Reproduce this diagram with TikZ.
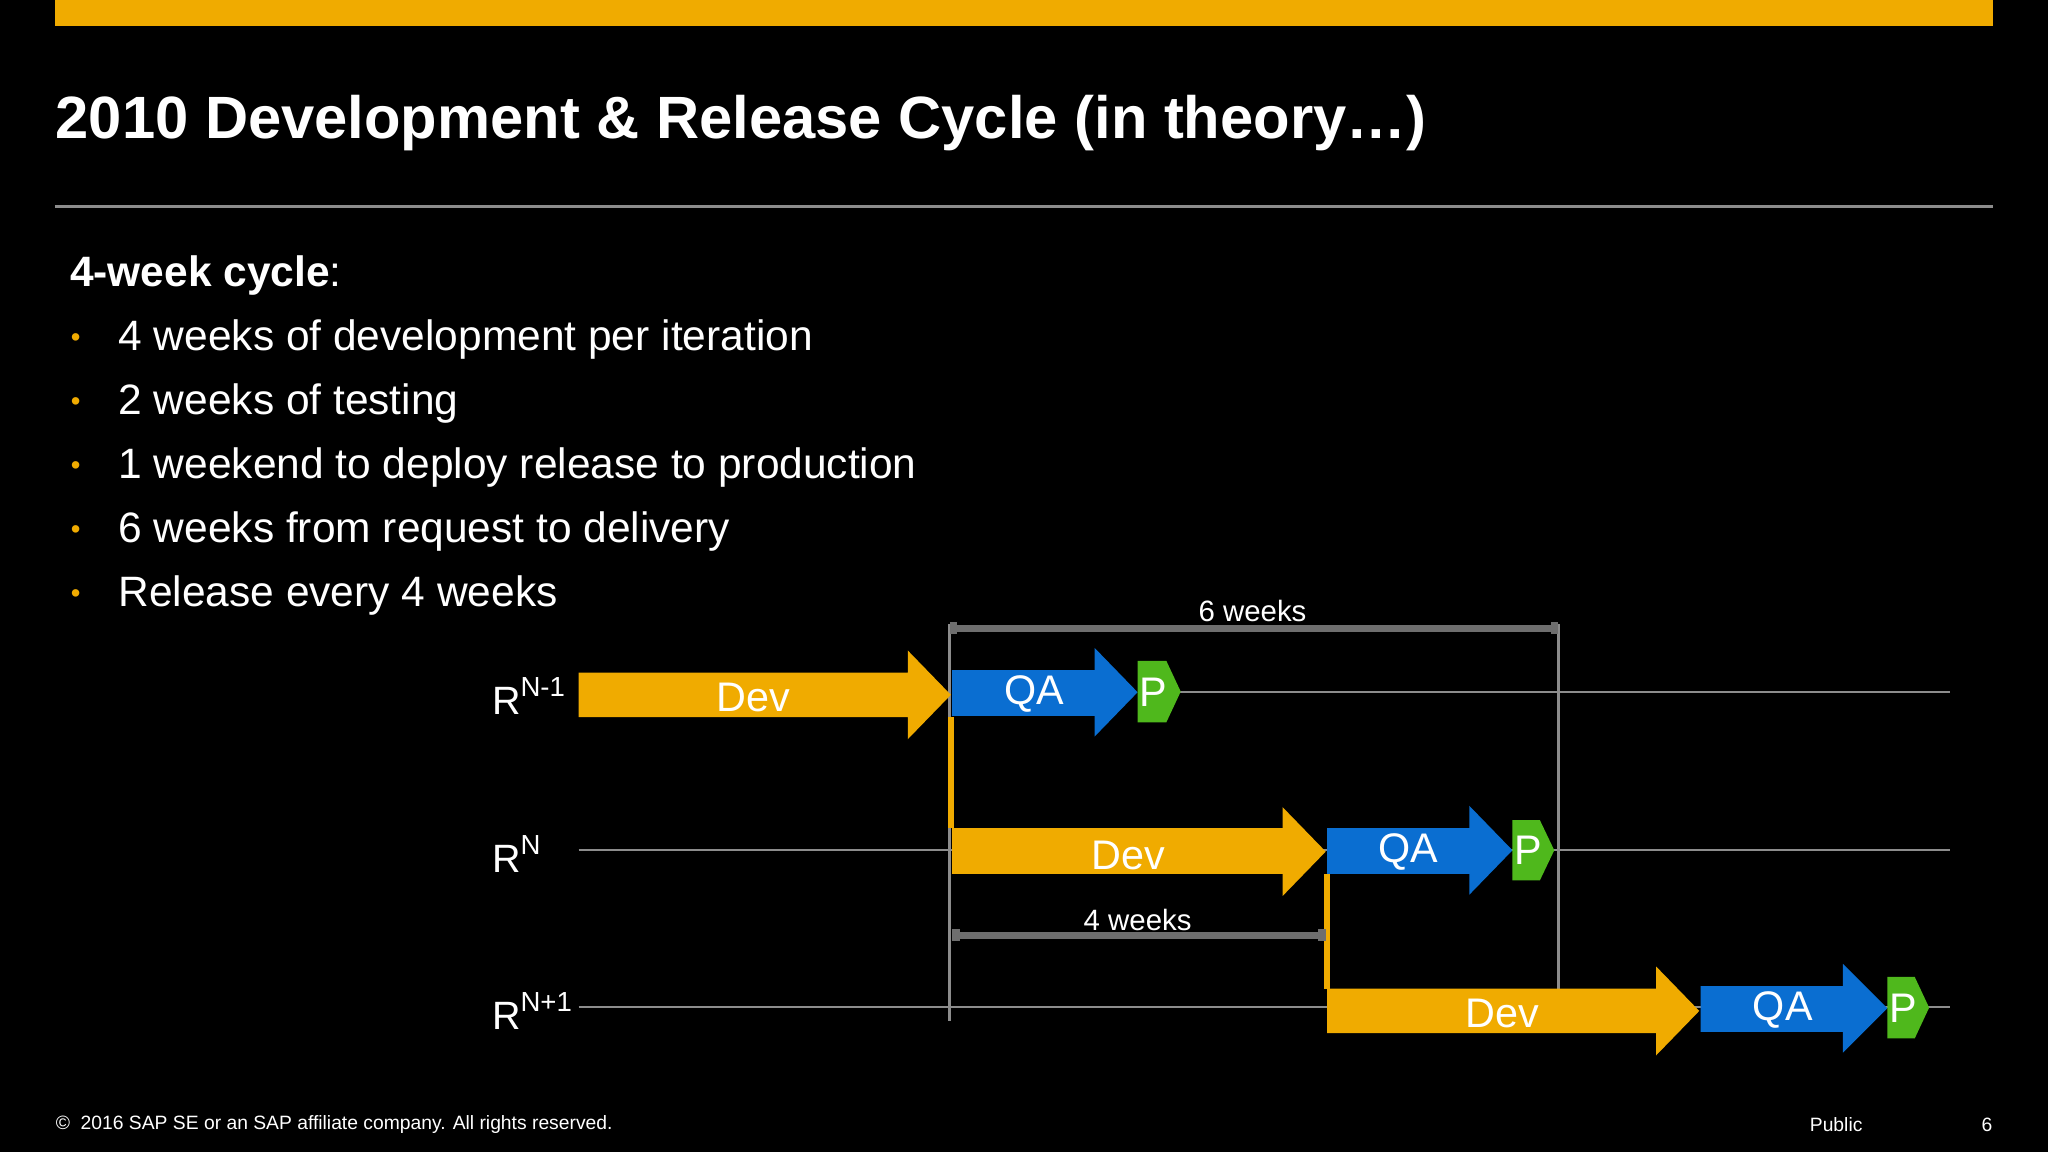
\documentclass[tikz,border=0pt]{standalone}
\usepackage{fontspec}
\setmainfont{Liberation Sans}
\usetikzlibrary{arrows.meta}
\definecolor{sapgold}{HTML}{F0AB00}
\definecolor{sapblue}{HTML}{0A6ED1}
\definecolor{sapgreen}{HTML}{4FB81C}
\definecolor{rowline}{HTML}{8C8C8C}
\definecolor{dimline}{HTML}{6E6E6E}
\tikzset{
  txt/.style={text=white,inner sep=0pt},
  bul/.style={txt,anchor=west,font=\fontsize{9.25}{10}\selectfont},
  lbl/.style={txt,font=\fontsize{8.6}{10}\selectfont},
  arrtxt/.style={txt,font=\fontsize{9}{10}\selectfont},
  dimarrow/.style={dimline,line width=1.6pt,{Bar[width=2.5pt]}-{Bar[width=2.5pt]}},
}
\newcommand{\sups}[1]{\raisebox{0.45em}{\fontsize{6}{7}\selectfont #1}}
\newcommand{\bigarrow}[8]{\fill[#8] (#1,#4) -- (#2,#4) -- (#2,#6) -- (#3,{(#6+#7)/2}) -- (#2,#7) -- (#2,#5) -- (#1,#5) -- cycle;}
\newcommand{\pent}[4]{\fill[sapgreen] (#1,#3) -- ({#2-11},#3) -- (#2,{(#3+#4)/2}) -- ({#2-11},#4) -- (#1,#4) -- cycle;}
\begin{document}
\begin{tikzpicture}[x=0.01cm,y=-0.01cm]
\fill[black] (0,0) rectangle (1568,882);
\useasboundingbox (0,0) rectangle (1568,882);
\fill[sapgold] (42,0) rectangle (1526,20);
\node[txt,anchor=west,font=\fontsize{13}{14}\selectfont\bfseries] (title) at (42,94) {2010 Development \& Release Cycle (in theory…)};
\draw[rowline,line width=0.6pt] (42,158) -- (1526,158);
\node[bul] (head) at (53,211) {\textbf{4-week cycle}:};
\foreach \y/\t [count=\i] in {260/4 weeks of development per iteration,309/2 weeks of testing,358/1 weekend to deploy release to production,407/6 weeks from request to delivery,456/Release every 4 weeks}{
  \node[text=sapgold,font=\fontsize{6}{7}\selectfont,inner sep=0pt] (b\i) at (58,\y) {•};
  \node[bul] (t\i) at (90,\y) {\t};
}
\draw[rowline,line width=0.5pt] (900,530) -- (1493,530);
\draw[rowline,line width=0.5pt] (443,651) -- (1493,651);
\draw[rowline,line width=0.5pt] (443,771) -- (1493,771);
\draw[rowline,line width=0.6pt] (727,478) -- (727,782);
\draw[rowline,line width=0.6pt] (1193,478) -- (1193,757);
\draw[sapgold,line width=1.2pt] (728,549) -- (728,634);
\draw[sapgold,line width=1.2pt] (1016,669) -- (1016,757);
\coordinate (s6) at (727,481); \coordinate (e6) at (1193,481);
\draw[dimarrow] (s6) -- (e6);
\node[txt,font=\fontsize{6.4}{7}\selectfont] (w6) at (959,468) {6 weeks};
\coordinate (s4) at (729,716); \coordinate (e4) at (1015,716);
\draw[dimarrow] (s4) -- (e4);
\node[txt,font=\fontsize{6.4}{7}\selectfont] (w4) at (871,704) {4 weeks};
\node[lbl,anchor=west] (r1) at (376,533) {R\sups{N-1}};
\node[lbl,anchor=west] (r2) at (376,654) {R\sups{N}};
\node[lbl,anchor=west] (r3) at (376,774) {R\sups{N+1}};
\bigarrow{443}{695}{728}{515}{549}{498}{566}{sapgold}
\node[arrtxt] (d1) at (577,534) {Dev};
\bigarrow{729}{838}{871}{513}{548}{496}{564}{sapblue}
\node[arrtxt] (q1) at (792,531) {QA};
\pent{871}{904}{506}{553}
\node[arrtxt] (p1) at (883,530) {P};
\bigarrow{729}{982}{1015}{634}{669}{618}{686}{sapgold}
\node[arrtxt] (d2) at (864,655) {Dev};
\bigarrow{1016}{1125}{1158}{634}{669}{617}{685}{sapblue}
\node[arrtxt] (q2) at (1078,652) {QA};
\pent{1158}{1190}{628}{674}
\node[arrtxt] (p2) at (1170,651) {P};
\bigarrow{1016}{1268}{1301}{757}{791}{740}{808}{sapgold}
\node[arrtxt] (d3) at (1150,776) {Dev};
\bigarrow{1302}{1411}{1445}{755}{790}{738}{806}{sapblue}
\node[arrtxt] (q3) at (1365,773) {QA};
\pent{1445}{1477}{748}{795}
\node[arrtxt] (p3) at (1457,772) {P};
\node[txt,anchor=west,font=\fontsize{4.2}{5}\selectfont] (copy) at (42,861) {©\ \ 2016 SAP SE or an SAP affiliate company. All rights reserved.};
\node[txt,anchor=west,font=\fontsize{4.2}{5}\selectfont] (pub) at (1385,861) {Public};
\node[txt,anchor=east,font=\fontsize{4.2}{5}\selectfont] (pg) at (1526,861) {6};
\end{tikzpicture}
\end{document}
